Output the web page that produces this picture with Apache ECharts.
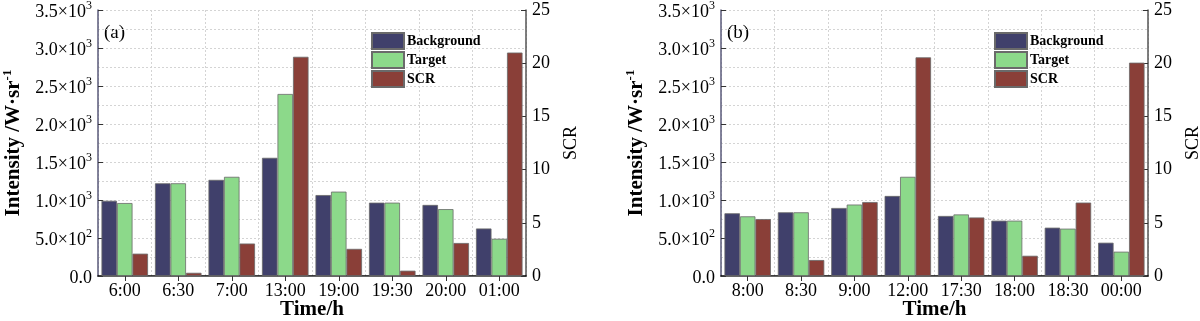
<!DOCTYPE html>
<html><head><meta charset="utf-8">
<script src="https://cdn.jsdelivr.net/npm/echarts@6/dist/echarts.min.js"></script>
<style>html,body{margin:0;padding:0;background:#fff}#c{width:1200px;height:321px}</style>
</head><body><div id="c"></div>
<script>
var catsA = ['6:00','6:30','7:00','13:00','19:00','19:30','20:00','01:00'];
var bgA   = [990, 1220, 1265, 1555, 1065, 965, 935, 625];
var tgA   = [960, 1220, 1305, 2395, 1110, 965, 880, 490];
var scrA  = [2.1, 0.3, 3.05, 20.6, 2.55, 0.5, 3.1, 21.0];
var catsB = ['8:00','8:30','9:00','12:00','17:30','18:00','18:30','00:00'];
var bgB   = [825, 838, 895, 1053, 790, 728, 636, 438];
var tgB   = [785, 838, 940, 1305, 810, 728, 623, 320];
var scrB  = [5.35, 1.5, 6.95, 20.55, 5.5, 1.9, 6.9, 20.05];
var legendNames = ['Background','Target','SCR'];
var panelLabels = ['(a)','(b)'];

var FONT = '"Liberation Serif", "Times New Roman", serif';
var colors = {Background:'#40406b', Target:'#8cd98a', SCR:'#8a3f38'};
var grids = [
  {left:98, right:674, top:10, bottom:45, outerBoundsMode:'none', containLabel:false},
  {left:721, right:52, top:10, bottom:45, outerBoundsMode:'none', containLabel:false}
];
function leftFmt(v){
  if (v === 0) return '{m|0.0}';
  var e = Math.floor(Math.log10(v) + 1e-9);
  var m = (v/Math.pow(10,e)).toFixed(1);
  return '{m|' + m + '×10}{s|' + e + '}';
}
var chart = echarts.init(document.getElementById('c'), null, {renderer:'canvas'});
var xAxis = [], yAxis = [], series = [], legend = [], graphic = [];
var panels = [[catsA,bgA,tgA,scrA],[catsB,bgB,tgB,scrB]];
panels.forEach(function(p, i){
  xAxis.push({
    type:'category', gridIndex:i, data:p[0], position:'bottom',
    axisLine:{lineStyle:{color:'#000', width:1.5}},
    axisTick:{show:false},
    axisLabel:{fontFamily:FONT, fontSize:18, color:'#000', margin:6, interval:0},
    splitLine:{show:true, interval:0, lineStyle:{color:'#d4d4d4', type:[2,2], width:1}},
    name:'Time/h', nameLocation:'middle', nameGap:23, nameMoveOverlap:false,
    nameTextStyle:{fontFamily:FONT, fontSize:21, fontWeight:'bold', color:'#000', verticalAlign:'top'}
  });
  xAxis.push({
    type:'category', gridIndex:i, data:p[0], position:'top',
    axisLine:{lineStyle:{color:'#666', width:1}},
    axisTick:{show:true, inside:true, alignWithLabel:true, interval:0, length:5, lineStyle:{color:'#333'}},
    axisLabel:{show:false}, splitLine:{show:false}
  });
  yAxis.push({
    type:'value', gridIndex:i, min:0, max:3500, interval:500, position:'left',
    axisLine:{show:true, lineStyle:{color:'#5a5a7a', width:1.5}},
    axisTick:{show:true, inside:true, length:5, lineStyle:{color:'#333'}},
    minorTick:{show:false, splitNumber:2},
    minorSplitLine:{show:true, lineStyle:{color:'#d4d4d4', type:[2,2], width:1}},
    splitLine:{show:true, lineStyle:{color:'#d4d4d4', type:[2,2], width:1}},
    axisLabel:{formatter:leftFmt, margin:6, color:'#000',
      rich:{m:{fontFamily:FONT, fontSize:18, color:'#000', verticalAlign:'bottom', lineHeight:22},
            s:{fontFamily:FONT, fontSize:12, color:'#000', verticalAlign:'bottom', lineHeight:12, padding:[0,0,9,0]}}},
    name:'{t|Intensity /W·sr}{u|-1}', nameLocation:'middle', nameGap:74, nameRotate:90,
    nameTextStyle:{color:'#000',
      rich:{t:{fontFamily:FONT, fontSize:21, fontWeight:'bold', color:'#000', verticalAlign:'bottom', lineHeight:24},
            u:{fontFamily:FONT, fontSize:13, fontWeight:'bold', color:'#000', verticalAlign:'bottom', lineHeight:13, padding:[0,0,10,0]}}}
  });
  yAxis.push({
    type:'value', gridIndex:i, min:0, max:25, interval:5, position:'right',
    axisLine:{show:true, lineStyle:{color:'#555', width:1.5}},
    axisTick:{show:true, inside:true, length:5, lineStyle:{color:'#333'}},
    splitLine:{show:false},
    axisLabel:{fontFamily:FONT, fontSize:18, color:'#000', margin:6},
    name:'SCR', nameLocation:'middle', nameGap:36, nameRotate:90, nameMoveOverlap:false,
    nameTextStyle:{fontFamily:FONT, fontSize:18, color:'#000'}
  });
  var vals = [p[1], p[2], p[3]];
  legendNames.forEach(function(n, k){
    series.push({
      type:'bar', name:n, xAxisIndex:i*2, yAxisIndex:(k===2 ? i*2+1 : i*2),
      data:vals[k], barGap:'0%', barCategoryGap:'13%',
      itemStyle:{color:colors[n], borderColor:'#6a6a6a', borderWidth:0.8},
      emphasis:{disabled:true}, animation:false
    });
  });
  legend.push({
    orient:'vertical', left:(i===0 ? 366 : 989), top:27, itemWidth:32, itemHeight:16, itemGap:1,
    data:legendNames, icon:'rect',
    textStyle:{fontFamily:FONT, fontSize:14, fontWeight:'bold', color:'#000', padding:[0,0,0,-2]}
  });
  graphic.push({
    type:'text', left:grids[i].left + 6, top:24,
    style:{text:panelLabels[i], font:'19px ' + FONT, fill:'#000'}
  });
});
chart.setOption({
  animation:false,
  grid:grids, xAxis:xAxis, yAxis:yAxis, series:series, legend:legend, graphic:graphic
});
</script></body></html>
